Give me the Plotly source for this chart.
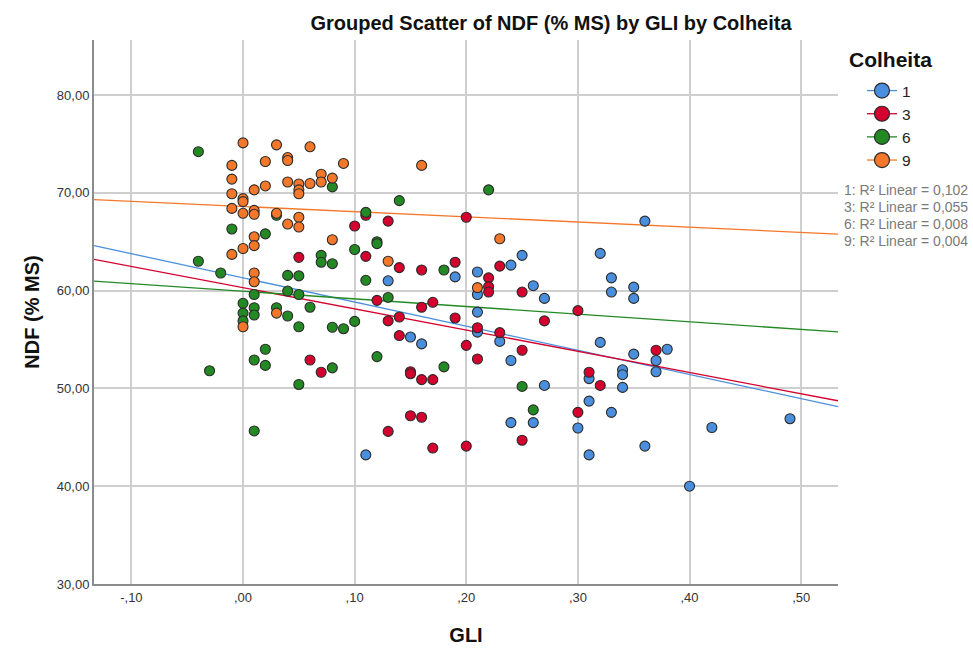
import plotly.graph_objects as go

# GLI / NDF (% MS) observations for each harvest (Colheita)
gli_1 = [0.36, 0.32, 0.25, 0.24, 0.21, 0.19, 0.33, 0.13, 0.26, 0.35, 0.33, 0.21, 0.27, 0.35,
         0.21, 0.21, 0.15, 0.23, 0.32, 0.16, 0.38, 0.35, 0.24, 0.37, 0.34, 0.37, 0.34, 0.31,
         0.27, 0.34, 0.31, 0.33, 0.49, 0.24, 0.26, 0.42, 0.30, 0.36, 0.11, 0.31, 0.40]
ndf_1 = [67.1, 63.8, 63.6, 62.6, 61.9, 61.4, 61.3, 61.0, 60.5, 60.35, 59.85, 59.6, 59.2, 59.2,
         57.8, 55.75, 55.25, 54.8, 54.7, 54.55, 54.0, 53.5, 52.85, 52.85, 51.9, 51.7, 51.4, 51.0,
         50.3, 50.1, 48.7, 47.55, 46.9, 46.5, 46.5, 46.0, 45.95, 44.1, 43.2, 43.2, 40.0]

gli_3 = [0.20, 0.11, 0.13, 0.10, 0.11, 0.05, 0.19, 0.23, 0.14, 0.16, 0.22, 0.22, 0.22, 0.25,
         0.12, 0.17, 0.16, 0.30, 0.14, 0.19, 0.13, 0.27, 0.21, 0.23, 0.14, 0.20, 0.25, 0.37,
         0.21, 0.06, 0.07, 0.15, 0.15, 0.31, 0.16, 0.17, 0.32, 0.30, 0.15, 0.16, 0.13, 0.25,
         0.20, 0.17]
ndf_3 = [67.5, 67.7, 67.1, 66.6, 63.5, 63.4, 62.9, 62.5, 62.35, 62.1, 61.3, 60.4, 59.85, 59.85,
         59.0, 58.8, 58.3, 57.95, 57.3, 57.2, 56.9, 56.9, 56.2, 55.7, 55.4, 54.4, 53.9, 53.9,
         53.0, 52.9, 51.65, 51.7, 51.5, 51.65, 50.9, 50.9, 50.3, 47.55, 47.2, 47.05, 45.6, 44.7,
         44.1, 43.9]

gli_6 = [-0.04, 0.22, 0.08, 0.14, 0.11, 0.03, -0.01, 0.02, 0.12, 0.12, 0.10, 0.07, -0.04, 0.07,
         0.08, 0.18, -0.02, 0.04, 0.05, 0.11, 0.04, 0.05, 0.01, 0.13, 0.00, 0.01, 0.03, 0.06,
         0.00, 0.01, 0.04, 0.00, 0.10, 0.05, 0.08, 0.09, 0.02, 0.12, 0.01, 0.02, 0.18, 0.08,
         -0.03, 0.05, 0.25, 0.26, 0.01]
ndf_6 = [74.2, 70.3, 70.6, 69.2, 68.0, 67.7, 66.3, 65.8, 65.0, 64.8, 64.2, 63.6, 63.0, 62.9,
         62.75, 62.1, 61.8, 61.55, 61.5, 61.05, 59.95, 59.6, 59.6, 59.3, 58.7, 58.25, 58.25, 58.3,
         57.7, 57.5, 57.4, 56.9, 56.85, 56.3, 56.25, 56.1, 54.0, 53.25, 52.9, 52.35, 52.2, 52.1,
         51.8, 50.4, 50.2, 47.8, 45.65]

gli_9 = [0.00, 0.03, 0.06, 0.04, 0.04, 0.02, 0.09, -0.01, 0.16, 0.07, 0.08, -0.01, 0.04, 0.07,
         0.06, 0.05, 0.02, 0.01, 0.05, -0.01, 0.05, 0.00, 0.00, -0.01, 0.01, 0.00, 0.03, 0.01,
         0.05, 0.04, 0.05, 0.01, 0.08, 0.23, 0.01, 0.00, -0.01, 0.13, 0.01, 0.01, 0.21, 0.03,
         0.00]
ndf_9 = [75.1, 74.9, 74.7, 73.6, 73.3, 73.2, 73.0, 72.8, 72.8, 71.9, 71.5, 71.4, 71.1, 71.1,
         70.95, 70.9, 70.7, 70.3, 70.3, 69.9, 69.9, 69.4, 69.1, 68.4, 68.2, 67.9, 67.9, 67.8,
         67.5, 66.8, 66.5, 65.5, 65.2, 65.3, 64.6, 64.3, 63.7, 63.0, 61.8, 60.9, 60.3, 57.7,
         56.3]

groups = ["1", "3", "6", "9"]
r2_values = ["0,102", "0,055", "0,008", "0,004"]

# linear fit (NDF = intercept + slope * GLI) for each harvest
fit_intercept = [61.3, 60.3, 59.93, 68.6]
fit_slope = [-24.7, -21.7, -7.8, -5.3]

x_tick_vals = [-0.10, 0.00, 0.10, 0.20, 0.30, 0.40, 0.50]
x_tick_text = ["-,10", ",00", ",10", ",20", ",30", ",40", ",50"]
y_tick_vals = [30, 40, 50, 60, 70, 80]
y_tick_text = ["30,00", "40,00", "50,00", "60,00", "70,00", "80,00"]

colors = ["#4a8fdd", "#d4002e", "#238a23", "#f5782a"]
series = [(gli_1, ndf_1), (gli_3, ndf_3), (gli_6, ndf_6), (gli_9, ndf_9)]

X_RANGE = [-0.1335, 0.533]
Y_RANGE = [30, 85.62]
FONT = "Arial, Liberation Sans, sans-serif"

fig = go.Figure()

# fit lines spanning the whole x axis
for a, b, col in zip(fit_intercept, fit_slope, colors):
    xs = list(X_RANGE)
    fig.add_trace(go.Scatter(x=xs, y=[a + b * v for v in xs], mode="lines",
                             line=dict(color=col, width=1.3),
                             showlegend=False, hoverinfo="skip"))

# scatter points
for (gx, gy), col, name in zip(series, colors, groups):
    fig.add_trace(go.Scatter(x=gx, y=gy, mode="markers", name=name, showlegend=False,
                             marker=dict(size=10, color=col,
                                         line=dict(color="#2b2b2b", width=1.1))))

# legend keys (marker with fit line)
for col, name in zip(colors, groups):
    fig.add_trace(go.Scatter(x=[None], y=[None], mode="lines+markers", name=name,
                             marker=dict(size=15, color=col,
                                         line=dict(color="#2b2b2b", width=1.2)),
                             line=dict(color=col, width=1.3)))

annotations = [
    dict(text="<b>Colheita</b>", xref="paper", yref="paper", x=(847 - 94) / 744,
         y=1 - (46 - 40) / 544, xanchor="left", yanchor="top", showarrow=False,
         font=dict(family=FONT, size=21, color="#111111")),
]
for i, (g, r2) in enumerate(zip(groups, r2_values)):
    annotations.append(dict(text=f"{g}: R² Linear = {r2}", xref="paper", yref="paper",
                            x=(842 - 94) / 744, y=1 - (190 + 17 * i - 40) / 544,
                            xanchor="left", yanchor="middle", showarrow=False,
                            font=dict(family=FONT, size=14, color="#7a7a7a")))

fig.update_layout(
    width=973, height=651,
    margin=dict(l=94, r=135, t=40, b=67),
    paper_bgcolor="white", plot_bgcolor="white",
    font=dict(family=FONT, color="#333333"),
    title=dict(text="<b>Grouped Scatter of NDF (% MS) by GLI by Colheita</b>",
               x=551 / 973, xanchor="center", y=1 - 23 / 651, yanchor="middle",
               xref="container", yref="container",
               font=dict(family=FONT, size=20, color="#111111")),
    legend=dict(x=(862 - 94) / 744, y=1 - (74 - 40) / 544, xanchor="left", yanchor="top",
                font=dict(family=FONT, size=15.5, color="#222222"),
                itemsizing="trace", tracegroupgap=0, bgcolor="rgba(0,0,0,0)"),
    annotations=annotations,
)

fig.update_xaxes(range=X_RANGE, tickvals=x_tick_vals, ticktext=x_tick_text,
                 showgrid=True, gridcolor="#cfcfcf", gridwidth=1.5,
                 showline=True, linecolor="#8c8c8c", linewidth=2, zeroline=False,
                 ticks="", automargin=False,
                 tickfont=dict(family=FONT, size=13, color="#333333"),
                 title=dict(text="<b>GLI</b>", font=dict(family=FONT, size=20, color="#111111"),
                            standoff=24))
fig.update_yaxes(range=Y_RANGE, tickvals=y_tick_vals, ticktext=y_tick_text,
                 showgrid=True, gridcolor="#cfcfcf", gridwidth=1.5,
                 showline=True, linecolor="#8c8c8c", linewidth=2, zeroline=False,
                 ticks="", automargin=False,
                 tickfont=dict(family=FONT, size=13, color="#333333"),
                 title=dict(text="<b>NDF (% MS)</b>", font=dict(family=FONT, size=20, color="#111111"),
                            standoff=12))

fig.write_html("out.html")
